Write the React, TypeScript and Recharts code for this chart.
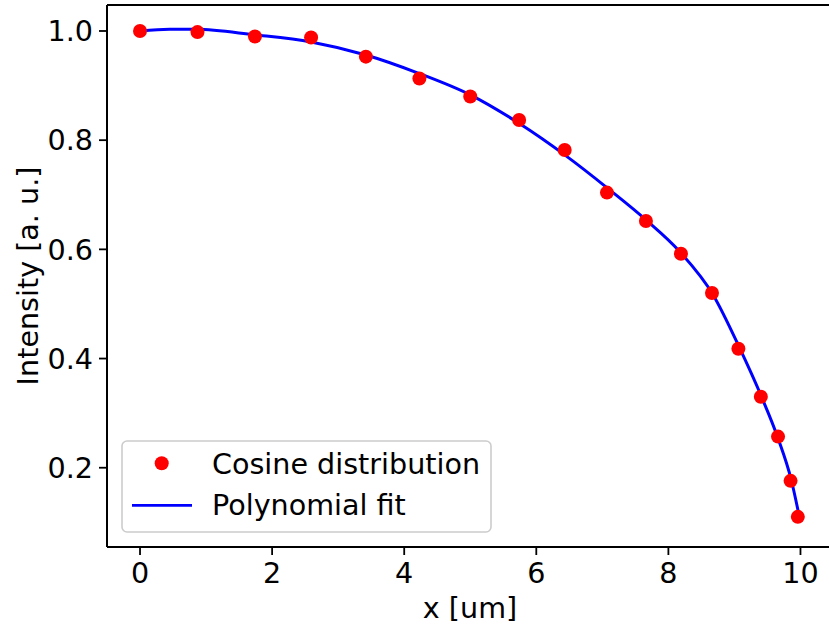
import { ComposedChart, Scatter, Line, XAxis, YAxis, ReferenceLine } from 'recharts'

// measured cosine distribution points
const POINT_X = [0, 0.87, 1.74, 2.59, 3.42, 4.23, 5.0, 5.74, 6.43, 7.07, 7.66, 8.19, 8.66, 9.06, 9.4, 9.66, 9.85, 9.96]
const POINT_Y = [1.0, 0.998, 0.99, 0.988, 0.953, 0.913, 0.88, 0.837, 0.782, 0.704, 0.652, 0.592, 0.52, 0.418, 0.33, 0.257, 0.176, 0.11]

// polynomial fit curve
const FIT_X = [0, 0.45, 0.85, 1.73, 2.59, 3.42, 4.23, 5.0, 5.75, 6.43, 7.11, 7.66, 8.17, 8.68, 9.08, 9.41, 9.66, 9.86, 10.0]
const FIT_Y = [1.0, 1.003, 1.003, 0.993, 0.98, 0.956, 0.922, 0.883, 0.83, 0.773, 0.709, 0.654, 0.596, 0.516, 0.419, 0.33, 0.254, 0.178, 0.1]

const X_TICKS = [0, 2, 4, 6, 8, 10]
const Y_TICKS = [0.2, 0.4, 0.6, 0.8, 1.0]

const X_DOMAIN = [-0.5, 10.5]
const Y_DOMAIN = [0.0548, 1.0476]

const points = POINT_X.map((x, i) => ({ x, y: POINT_Y[i] }))
const fit = FIT_X.map((x, i) => ({ x, y: FIT_Y[i] }))

const FONT = 'DejaVu Sans, Verdana, sans-serif'
const FS = 28.6
const tickStyle = { fontSize: FS, fill: '#000', fontFamily: FONT }

function Legend() {
  return (
    <svg
      width={371}
      height={93}
      style={{ position: 'absolute', left: 121, top: 440, overflow: 'visible' }}
    >
      <rect x={1} y={1} width={369} height={91} rx={5} fill="rgba(255,255,255,0.8)" stroke="#cccccc" strokeWidth={1.6} />
      <circle cx={40.7} cy={23.3} r={7} fill="#ff0000" />
      <line x1={11} x2={71} y1={65.3} y2={65.3} stroke="#0000ff" strokeWidth={2.7} />
      <text x={91} y={34} fontSize={FS} fontFamily={FONT} fill="#000">
        Cosine distribution
      </text>
      <text x={91} y={75} fontSize={FS} fontFamily={FONT} fill="#000">
        Polynomial fit
      </text>
    </svg>
  )
}

export default function App() {
  return (
    <div
      style={{
        position: 'absolute',
        left: 0,
        top: 0,
        width: 829,
        height: 629,
        overflow: 'hidden',
        background: '#fff',
      }}
    >
      <ComposedChart width={840} height={629} margin={{ top: 5, right: 6.5, bottom: 0, left: 0 }}>
        <XAxis
          dataKey="x"
          type="number"
          domain={X_DOMAIN}
          ticks={X_TICKS}
          allowDataOverflow
          height={82}
          tickSize={8}
          tickMargin={8}
          tick={tickStyle}
          axisLine={{ stroke: '#000', strokeWidth: 2 }}
          tickLine={{ stroke: '#000', strokeWidth: 1.8 }}
          label={{
            content: () => (
              <text x={470} y={618} textAnchor="middle" fontSize={FS} fontFamily={FONT} fill="#000">
                x [um]
              </text>
            ),
          }}
        />
        <YAxis
          dataKey="y"
          type="number"
          domain={Y_DOMAIN}
          ticks={Y_TICKS}
          allowDataOverflow
          width={107}
          tickSize={8}
          tickMargin={6}
          tick={tickStyle}
          tickFormatter={(v: number) => v.toFixed(1)}
          axisLine={{ stroke: '#000', strokeWidth: 2 }}
          tickLine={{ stroke: '#000', strokeWidth: 1.8 }}
          label={{
            content: () => (
              <text
                x={38}
                y={276}
                transform="rotate(-90 38 276)"
                textAnchor="middle"
                fontSize={FS}
                fontFamily={FONT}
                fill="#000"
              >
                Intensity [a. u.]
              </text>
            ),
          }}
        />
        {/* top spine */}
        <ReferenceLine y={Y_DOMAIN[1]} stroke="#000" strokeWidth={2} ifOverflow="visible" />
        <Scatter
          data={points}
          dataKey="y"
          isAnimationActive={false}
          shape={(p: any) => <circle cx={p.cx} cy={p.cy} r={7} fill="#ff0000" />}
        />
        <Line
          data={fit}
          dataKey="y"
          type="monotone"
          stroke="#0000ff"
          strokeWidth={3}
          dot={false}
          activeDot={false}
          isAnimationActive={false}
        />
      </ComposedChart>
      <Legend />
    </div>
  )
}
